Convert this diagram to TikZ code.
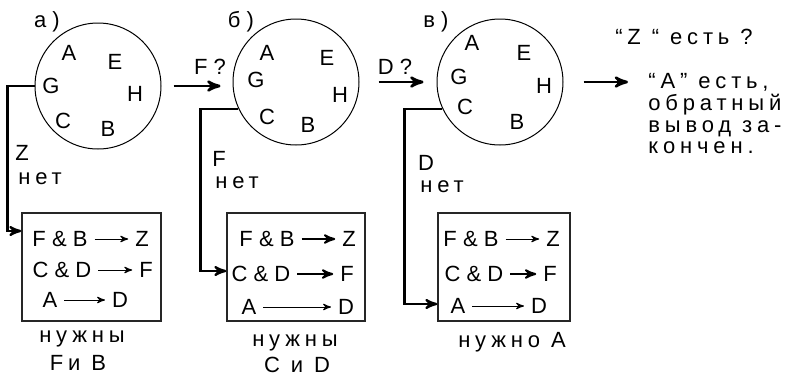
\documentclass[tikz,border=0pt]{standalone}
\usepackage{fontspec}
\setmainfont{Liberation Sans}
\newfontfamily\spaced[LetterSpace=22]{Liberation Sans}
\usetikzlibrary{arrows, positioning}

\begin{document}
\begin{tikzpicture}[x=0.5pt,y=-0.5pt,
    every node/.style={font=\fontsize{11}{13}\selectfont},
    ring/.style={circle, draw, line width=0.5pt, minimum size=63pt, inner sep=0pt},
    rulebox/.style={draw=black!85, line width=0.7pt, minimum height=54pt},
    wide/.style={font=\spaced\fontsize{11}{13}\selectfont},
    flow/.style={->, >=stealth', line width=1.3pt},
    link/.style={->, >=stealth', line width=1.1pt},
    rule/.style={->, >=stealth', line width=0.5pt},
    rulebold/.style={->, >=stealth', line width=1pt}]
    \fill[white] (0,0) rectangle (788,373);
    % the three states of the fact base
    \node[ring] (ca) at (98,86) {};
    \node[ring] (cb) at (296,82) {};
    \node[ring] (cc) at (500,82) {};
    \node (la) at (47,22) {а )};
    \node (lb) at (241,22) {б )};
    \node (lc) at (436,22) {в )};
    % facts a)
    \node (aA) at (69,53) {A};
    \node (aE) at (115,62) {E};
    \node (aG) at (51,86) {G};
    \node (aH) at (135,94) {H};
    \node (aC) at (63,121) {C};
    \node (aB) at (108,129) {B};
    % facts b)
    \node (bA) at (267,53) {A};
    \node (bE) at (327,58) {E};
    \node (bG) at (256,80) {G};
    \node (bH) at (340,95) {H};
    \node (bC) at (267,117) {C};
    \node (bB) at (308,125) {B};
    % facts c)
    \node (cA) at (472,43) {A};
    \node (cE) at (524,53) {E};
    \node (cG) at (459,77) {G};
    \node (cH) at (544,86) {H};
    \node (cC) at (465,107) {C};
    \node (cB) at (517,122) {B};
    % rule boxes
    \node[rulebox, minimum width=69.5pt] (boxa) at (91.5,267) {};
    \node[rulebox, minimum width=69pt] (boxb) at (296,267) {};
    \node[rulebox, minimum width=66pt] (boxc) at (504,267) {};
    % rules a)
    \node (a1l) at (60,239) {F \& B};  \node (a1r) at (142,239) {Z};
    \node (a2l) at (62,270) {C \& D};  \node (a2r) at (146,270) {F};
    \node (a3l) at (50,300) {A};       \node (a3r) at (120,300) {D};
    \draw[rule] (a1l) -- (a1r);
    \draw[rule] (a2l) -- (a2r);
    \draw[rule] (a3l) -- (a3r);
    % rules b)
    \node (b1l) at (267,239) {F \& B};  \node (b1r) at (349,239) {Z};
    \node (b2l) at (261,274) {C \& D};  \node (b2r) at (347,274) {F};
    \node (b3l) at (249,307) {A};       \node (b3r) at (346,307) {D};
    \draw[rulebold] (b1l) -- (b1r);
    \draw[rulebold] (b2l) -- (b2r);
    \draw[rule] (b3l) -- (b3r);
    % rules c)
    \node (c1l) at (471,239) {F \& B};  \node (c1r) at (553,239) {Z};
    \node (c2l) at (474,274) {C \& D};  \node (c2r) at (550,274) {F};
    \node (c3l) at (458,306) {A};       \node (c3r) at (539,306) {D};
    \draw[rule] (c1l) -- (c1r);
    \draw[rulebold] (c2l) -- (c2r);
    \draw[rule] (c3l) -- (c3r);
    % captions
    \node[wide] (na) at (82,339) {нужны};
    \node[wide] (fa) at (78,363) {Fи B};
    \node[wide] (nb) at (295,343) {нужны};
    \node[wide] (fb) at (297,365) {C и D};
    \node[wide] (nc) at (512,342) {нужно\ A};
    % goals not found
    \node (za) at (22,153) {Z};
    \node[wide] (ta) at (40,179) {нет};
    \node (zb) at (219,159) {F};
    \node[wide] (tb) at (237,183) {нет};
    \node (zc) at (426,163) {D};
    \node[wide] (tc) at (442,187) {нет};
    \draw[link] (ca.west) -- ++(-27,0) |- ([yshift=4pt]boxa.west |- a1l.center);
    \draw[link] (cb.205) -- ++(-38,0) |- ([yshift=1.5pt]boxb.west |- b2l.center);
    \draw[link] (cc.205) -- ++(-38,0) |- ([yshift=1pt]boxc.west |- c3l.center);
    % questions
    \node (qf) at (210,67) {F ?};
    \node (qd) at (395,67) {D ?};
    \node[wide] (ask) at (684,37) {“Z “ есть ?};
    \node[wide, font=\spaced\fontsize{11}{10.9}\selectfont, align=left, inner sep=0pt,
          anchor=north west] (done) at (648,73) {“A” есть,\\обратный\\вывод за-\\кончен.};
    \draw[flow, shorten <=6pt, shorten >=6pt] (ca.east) -- (ca.east -| cb.west);
    \draw[flow, shorten <=9.5pt, shorten >=6.5pt] (cb.east) -- (cc.west);
    \draw[flow, shorten <=10pt, shorten >=10pt] (cc.east) -- (cc.east -| done.west);
\end{tikzpicture}
\end{document}
